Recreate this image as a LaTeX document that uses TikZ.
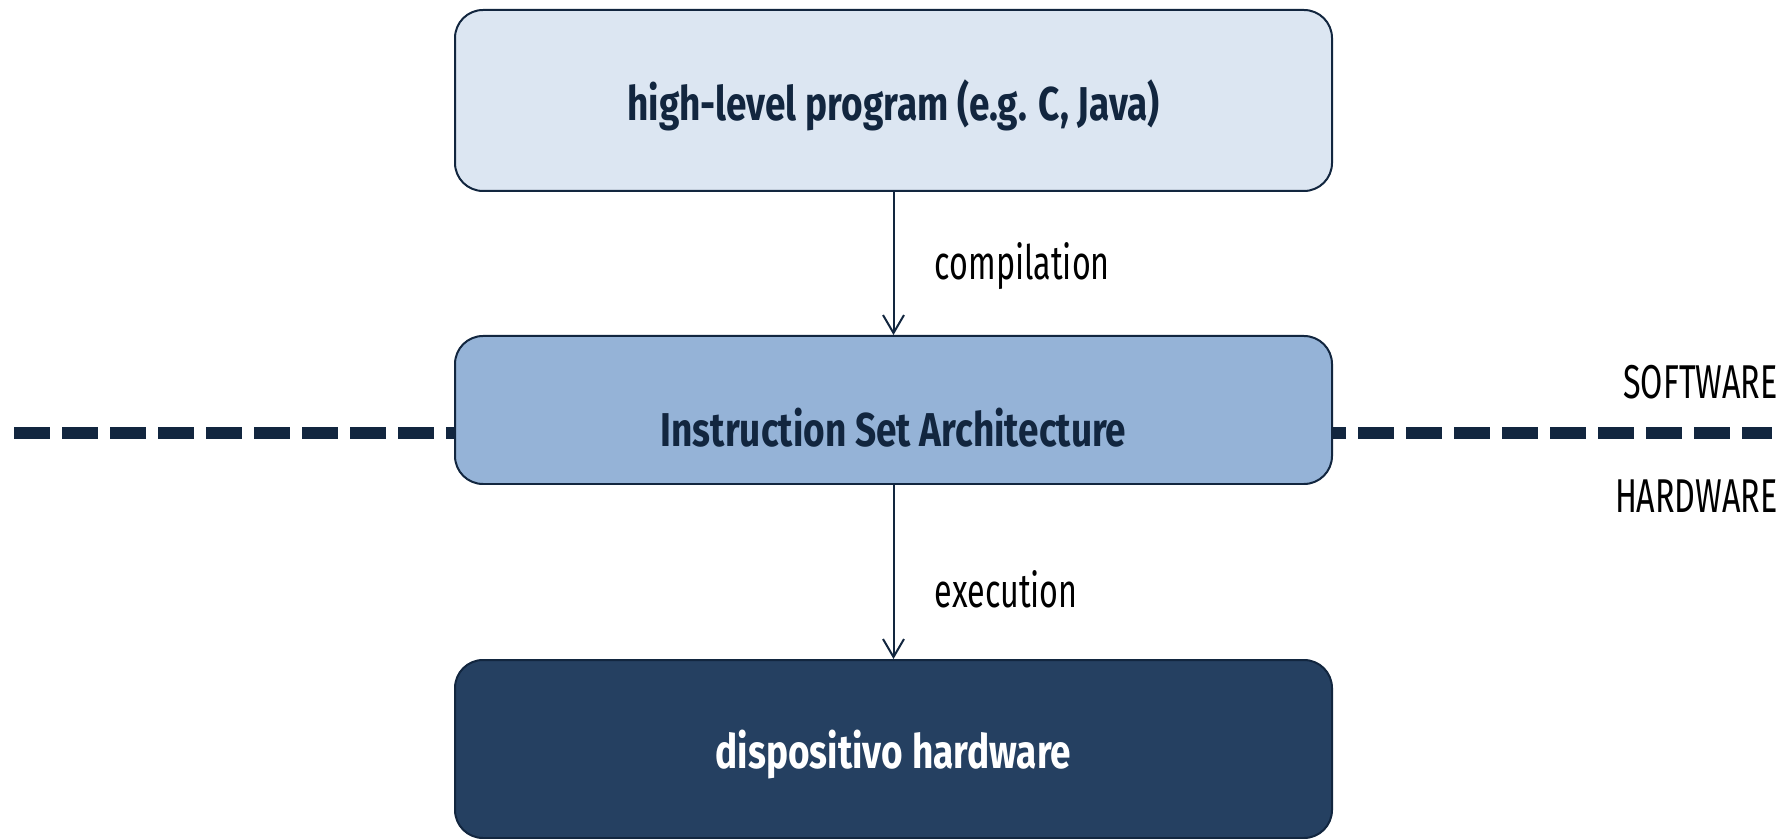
\documentclass[tikz,border=0pt]{standalone}
\usepackage{fontspec}
\setmainfont{Fira Sans}
\newfontfamily\narrowfont[FakeStretch=0.68]{Fira Sans}
\newfontfamily\boxfont[FakeStretch=0.78]{Fira Sans}
\usetikzlibrary{arrows.meta,positioning}

\definecolor{navy}{HTML}{12263F}
\definecolor{paleblue}{HTML}{DCE6F2}
\definecolor{midblue}{HTML}{95B3D7}
\definecolor{deepblue}{HTML}{254061}

% move a box label down without changing its size
\newcommand{\sinkby}[2]{\raisebox{-#1}[\height][\depth]{#2}}

\begin{document}
\begin{tikzpicture}[
  every node/.style={font=\narrowfont\fontsize{27}{30}\selectfont},
  layer/.style={
    draw=navy,
    line width=0.04cm,
    rounded corners=0.56cm,
    minimum width=17.54cm,
    align=center,
    font=\boxfont\bfseries\fontsize{27}{30}\selectfont,
    text=navy
  },
  side/.style={anchor=east, inner xsep=0pt},
  arrow/.style={-{Straight Barb[length=0.36cm,width=0.42cm]}, draw=navy, line width=0.04cm},
  border/.style={draw=navy, line width=0.24cm, dash pattern=on 0.72cm off 0.24cm}
]
\useasboundingbox (0,0) rectangle (35.7,-16.78);

% software / hardware border
\coordinate (borderL) at (0.28,-8.66);
\coordinate (borderR) at (35.44,-8.66);
\draw[border] (borderL) -- (borderR);

\node[layer, fill=paleblue, minimum height=3.62cm] (program) at (17.87,-2.01) {\sinkby{0.09cm}{high-level program (e.g. C, Java)}};
\node[layer, fill=midblue, minimum height=2.96cm] (isa) at (17.87,-8.2) {\sinkby{0.36cm}{Instruction Set Architecture}};
\node[layer, fill=deepblue, text=white, minimum height=3.56cm] (device) at (17.87,-14.98) {\sinkby{0.11cm}{dispositivo hardware}};

\draw[arrow] (program) -- node[pos=0.52, right=0.69cm] (compile) {compilation} (isa);
\draw[arrow] (isa) -- node[pos=0.6, right=0.69cm] (execute) {execution} (device);

\node[side] (sw) at (35.56,-7.64) {SOFTWARE};
\node[side] (hw) at (35.56,-9.92) {HARDWARE};
\end{tikzpicture}
\end{document}
